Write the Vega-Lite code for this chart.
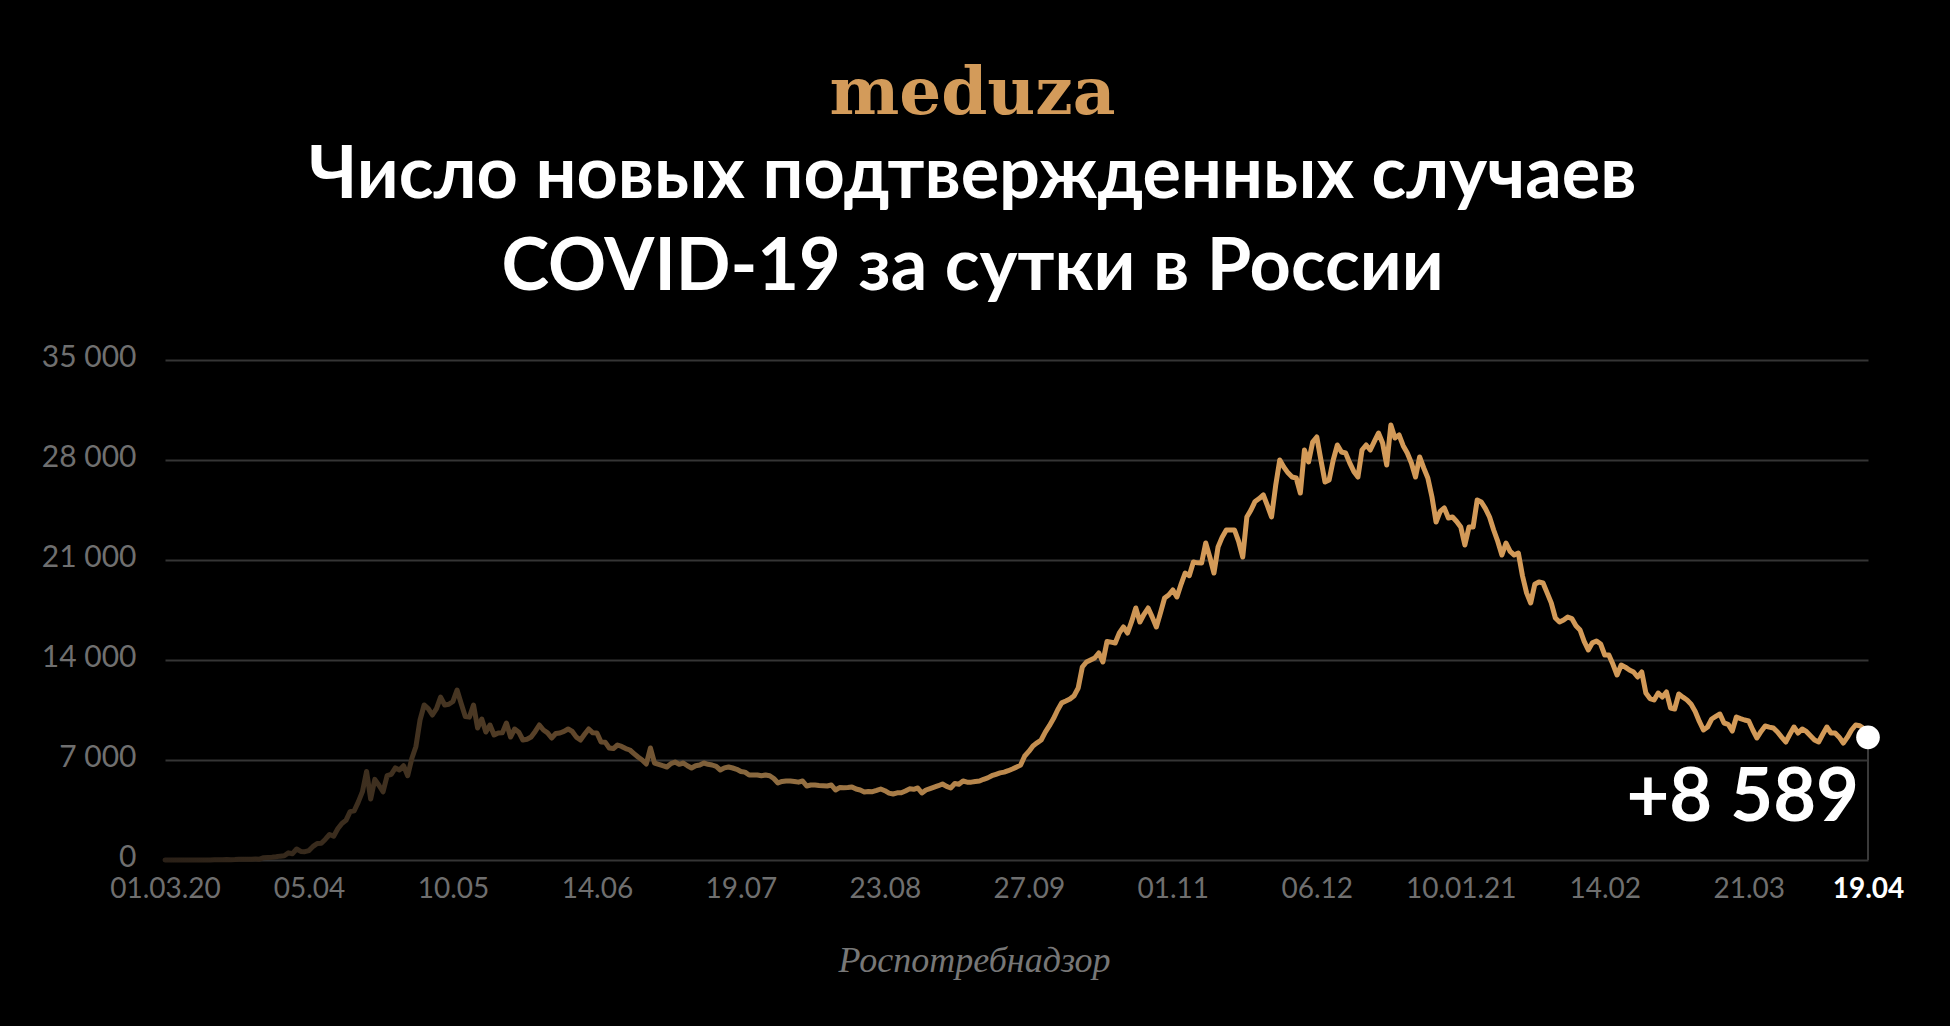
{
"$schema": "https://vega.github.io/schema/vega-lite/v6.json",
"width": 1703, "height": 500,
"autosize": {"type": "none"},
"padding": {"left": 165, "top": 360, "right": 82, "bottom": 166},
"background": "#000000",
"config": {
  "locale": {"number": {"decimal": ",", "thousands": " ", "grouping": [3], "currency": ["", ""]}},
  "view": {"stroke": null},
  "font": "Lato"
},
"title": {
  "text": "meduza",
  "subtitle": ["Число новых подтвержденных случаев", "COVID-19 за сутки в России"],
  "anchor": "middle", "dx": -44,
  "font": "DejaVu Serif", "fontSize": 66, "fontWeight": "bold", "color": "#D39B5A",
  "subtitleFont": "Lato", "subtitleFontSize": 72, "subtitleFontWeight": "bold", "subtitleColor": "#ffffff",
  "subtitleLineHeight": 92, "subtitlePadding": 13, "offset": 37
},
"datasets": {"cases": [
{"date":"2020-03-01","value":0},{"date":"2020-03-02","value":1},{"date":"2020-03-03","value":0},{"date":"2020-03-04","value":0},{"date":"2020-03-05","value":1},{"date":"2020-03-06","value":6},{"date":"2020-03-07","value":4},{"date":"2020-03-08","value":0},{"date":"2020-03-09","value":3},{"date":"2020-03-10","value":3},
{"date":"2020-03-11","value":8},{"date":"2020-03-12","value":6},{"date":"2020-03-13","value":11},{"date":"2020-03-14","value":14},{"date":"2020-03-15","value":18},{"date":"2020-03-16","value":30},{"date":"2020-03-17","value":21},{"date":"2020-03-18","value":33},{"date":"2020-03-19","value":52},{"date":"2020-03-20","value":54},
{"date":"2020-03-21","value":53},{"date":"2020-03-22","value":61},{"date":"2020-03-23","value":71},{"date":"2020-03-24","value":57},{"date":"2020-03-25","value":163},{"date":"2020-03-26","value":182},{"date":"2020-03-27","value":196},{"date":"2020-03-28","value":228},{"date":"2020-03-29","value":270},{"date":"2020-03-30","value":302},{"date":"2020-03-31","value":501},
{"date":"2020-04-01","value":440},{"date":"2020-04-02","value":771},{"date":"2020-04-03","value":601},{"date":"2020-04-04","value":582},{"date":"2020-04-05","value":658},{"date":"2020-04-06","value":954},{"date":"2020-04-07","value":1154},{"date":"2020-04-08","value":1175},{"date":"2020-04-09","value":1459},{"date":"2020-04-10","value":1786},
{"date":"2020-04-11","value":1667},{"date":"2020-04-12","value":2186},{"date":"2020-04-13","value":2558},{"date":"2020-04-14","value":2774},{"date":"2020-04-15","value":3388},{"date":"2020-04-16","value":3448},{"date":"2020-04-17","value":4070},{"date":"2020-04-18","value":4785},{"date":"2020-04-19","value":6200},{"date":"2020-04-20","value":4268},
{"date":"2020-04-21","value":5642},{"date":"2020-04-22","value":5236},{"date":"2020-04-23","value":4774},{"date":"2020-04-24","value":5900},{"date":"2020-04-25","value":6000},{"date":"2020-04-26","value":6450},{"date":"2020-04-27","value":6300},{"date":"2020-04-28","value":6600},{"date":"2020-04-29","value":5900},{"date":"2020-04-30","value":7100},
{"date":"2020-05-01","value":7950},{"date":"2020-05-02","value":9800},{"date":"2020-05-03","value":10850},{"date":"2020-05-04","value":10600},{"date":"2020-05-05","value":10150},{"date":"2020-05-06","value":10600},{"date":"2020-05-07","value":11400},{"date":"2020-05-08","value":10850},{"date":"2020-05-09","value":10900},{"date":"2020-05-10","value":11100},
{"date":"2020-05-11","value":11900},{"date":"2020-05-12","value":10950},{"date":"2020-05-13","value":10050},{"date":"2020-05-14","value":10000},{"date":"2020-05-15","value":10850},{"date":"2020-05-16","value":9240},{"date":"2020-05-17","value":9870},{"date":"2020-05-18","value":8960},{"date":"2020-05-19","value":9450},{"date":"2020-05-20","value":8750},
{"date":"2020-05-21","value":8890},{"date":"2020-05-22","value":8900},{"date":"2020-05-23","value":9590},{"date":"2020-05-24","value":8610},{"date":"2020-05-25","value":9170},{"date":"2020-05-26","value":8950},{"date":"2020-05-27","value":8400},{"date":"2020-05-28","value":8450},{"date":"2020-05-29","value":8610},{"date":"2020-05-30","value":9000},{"date":"2020-05-31","value":9450},
{"date":"2020-06-01","value":9100},{"date":"2020-06-02","value":8900},{"date":"2020-06-03","value":8540},{"date":"2020-06-04","value":8850},{"date":"2020-06-05","value":8890},{"date":"2020-06-06","value":9000},{"date":"2020-06-07","value":9170},{"date":"2020-06-08","value":9000},{"date":"2020-06-09","value":8600},{"date":"2020-06-10","value":8400},
{"date":"2020-06-11","value":8800},{"date":"2020-06-12","value":9170},{"date":"2020-06-13","value":8900},{"date":"2020-06-14","value":8890},{"date":"2020-06-15","value":8260},{"date":"2020-06-16","value":8250},{"date":"2020-06-17","value":7840},{"date":"2020-06-18","value":7800},{"date":"2020-06-19","value":8050},{"date":"2020-06-20","value":7950},
{"date":"2020-06-21","value":7800},{"date":"2020-06-22","value":7700},{"date":"2020-06-23","value":7450},{"date":"2020-06-24","value":7210},{"date":"2020-06-25","value":7000},{"date":"2020-06-26","value":6720},{"date":"2020-06-27","value":7840},{"date":"2020-06-28","value":6790},{"date":"2020-06-29","value":6700},{"date":"2020-06-30","value":6600},
{"date":"2020-07-01","value":6510},{"date":"2020-07-02","value":6750},{"date":"2020-07-03","value":6860},{"date":"2020-07-04","value":6700},{"date":"2020-07-05","value":6790},{"date":"2020-07-06","value":6600},{"date":"2020-07-07","value":6440},{"date":"2020-07-08","value":6600},{"date":"2020-07-09","value":6650},{"date":"2020-07-10","value":6790},
{"date":"2020-07-11","value":6700},{"date":"2020-07-12","value":6650},{"date":"2020-07-13","value":6550},{"date":"2020-07-14","value":6300},{"date":"2020-07-15","value":6450},{"date":"2020-07-16","value":6510},{"date":"2020-07-17","value":6440},{"date":"2020-07-18","value":6350},{"date":"2020-07-19","value":6200},{"date":"2020-07-20","value":6150},
{"date":"2020-07-21","value":5950},{"date":"2020-07-22","value":5950},{"date":"2020-07-23","value":5950},{"date":"2020-07-24","value":5900},{"date":"2020-07-25","value":5950},{"date":"2020-07-26","value":5900},{"date":"2020-07-27","value":5700},{"date":"2020-07-28","value":5390},{"date":"2020-07-29","value":5500},{"date":"2020-07-30","value":5530},{"date":"2020-07-31","value":5530},
{"date":"2020-08-01","value":5500},{"date":"2020-08-02","value":5450},{"date":"2020-08-03","value":5530},{"date":"2020-08-04","value":5180},{"date":"2020-08-05","value":5250},{"date":"2020-08-06","value":5250},{"date":"2020-08-07","value":5220},{"date":"2020-08-08","value":5200},{"date":"2020-08-09","value":5180},{"date":"2020-08-10","value":5250},
{"date":"2020-08-11","value":4900},{"date":"2020-08-12","value":5070},{"date":"2020-08-13","value":5060},{"date":"2020-08-14","value":5070},{"date":"2020-08-15","value":5110},{"date":"2020-08-16","value":4970},{"date":"2020-08-17","value":4900},{"date":"2020-08-18","value":4760},{"date":"2020-08-19","value":4800},{"date":"2020-08-20","value":4780},
{"date":"2020-08-21","value":4870},{"date":"2020-08-22","value":4970},{"date":"2020-08-23","value":4850},{"date":"2020-08-24","value":4680},{"date":"2020-08-25","value":4620},{"date":"2020-08-26","value":4700},{"date":"2020-08-27","value":4710},{"date":"2020-08-28","value":4830},{"date":"2020-08-29","value":4980},{"date":"2020-08-30","value":4950},{"date":"2020-08-31","value":5040},
{"date":"2020-09-01","value":4690},{"date":"2020-09-02","value":4900},{"date":"2020-09-03","value":5000},{"date":"2020-09-04","value":5100},{"date":"2020-09-05","value":5200},{"date":"2020-09-06","value":5320},{"date":"2020-09-07","value":5150},{"date":"2020-09-08","value":5040},{"date":"2020-09-09","value":5350},{"date":"2020-09-10","value":5300},
{"date":"2020-09-11","value":5530},{"date":"2020-09-12","value":5450},{"date":"2020-09-13","value":5450},{"date":"2020-09-14","value":5500},{"date":"2020-09-15","value":5530},{"date":"2020-09-16","value":5650},{"date":"2020-09-17","value":5750},{"date":"2020-09-18","value":5900},{"date":"2020-09-19","value":6000},{"date":"2020-09-20","value":6100},
{"date":"2020-09-21","value":6150},{"date":"2020-09-22","value":6250},{"date":"2020-09-23","value":6370},{"date":"2020-09-24","value":6500},{"date":"2020-09-25","value":6650},{"date":"2020-09-26","value":7280},{"date":"2020-09-27","value":7600},{"date":"2020-09-28","value":7980},{"date":"2020-09-29","value":8200},{"date":"2020-09-30","value":8400},
{"date":"2020-10-01","value":8950},{"date":"2020-10-02","value":9400},{"date":"2020-10-03","value":9900},{"date":"2020-10-04","value":10500},{"date":"2020-10-05","value":11000},{"date":"2020-10-06","value":11130},{"date":"2020-10-07","value":11270},{"date":"2020-10-08","value":11500},{"date":"2020-10-09","value":12040},{"date":"2020-10-10","value":13510},
{"date":"2020-10-11","value":13860},{"date":"2020-10-12","value":14000},{"date":"2020-10-13","value":14140},{"date":"2020-10-14","value":14490},{"date":"2020-10-15","value":13860},{"date":"2020-10-16","value":15300},{"date":"2020-10-17","value":15250},{"date":"2020-10-18","value":15190},{"date":"2020-10-19","value":15900},{"date":"2020-10-20","value":16310},
{"date":"2020-10-21","value":15890},{"date":"2020-10-22","value":16700},{"date":"2020-10-23","value":17640},{"date":"2020-10-24","value":16660},{"date":"2020-10-25","value":17200},{"date":"2020-10-26","value":17640},{"date":"2020-10-27","value":17000},{"date":"2020-10-28","value":16310},{"date":"2020-10-29","value":17300},{"date":"2020-10-30","value":18340},{"date":"2020-10-31","value":18550},
{"date":"2020-11-01","value":18900},{"date":"2020-11-02","value":18410},{"date":"2020-11-03","value":19300},{"date":"2020-11-04","value":20090},{"date":"2020-11-05","value":19900},{"date":"2020-11-06","value":20860},{"date":"2020-11-07","value":20800},{"date":"2020-11-08","value":20790},{"date":"2020-11-09","value":22190},{"date":"2020-11-10","value":21200},
{"date":"2020-11-11","value":20090},{"date":"2020-11-12","value":21910},{"date":"2020-11-13","value":22600},{"date":"2020-11-14","value":23100},{"date":"2020-11-15","value":23100},{"date":"2020-11-16","value":23100},{"date":"2020-11-17","value":22300},{"date":"2020-11-18","value":21210},{"date":"2020-11-19","value":24010},{"date":"2020-11-20","value":24500},
{"date":"2020-11-21","value":25100},{"date":"2020-11-22","value":25300},{"date":"2020-11-23","value":25550},{"date":"2020-11-24","value":24800},{"date":"2020-11-25","value":24010},{"date":"2020-11-26","value":26200},{"date":"2020-11-27","value":28000},{"date":"2020-11-28","value":27500},{"date":"2020-11-29","value":27100},{"date":"2020-11-30","value":26810},
{"date":"2020-12-01","value":26740},{"date":"2020-12-02","value":25690},{"date":"2020-12-03","value":28700},{"date":"2020-12-04","value":27860},{"date":"2020-12-05","value":29260},{"date":"2020-12-06","value":29610},{"date":"2020-12-07","value":28000},{"date":"2020-12-08","value":26460},{"date":"2020-12-09","value":26600},{"date":"2020-12-10","value":28000},
{"date":"2020-12-11","value":29050},{"date":"2020-12-12","value":28560},{"date":"2020-12-13","value":28490},{"date":"2020-12-14","value":27800},{"date":"2020-12-15","value":27200},{"date":"2020-12-16","value":26810},{"date":"2020-12-17","value":28700},{"date":"2020-12-18","value":29050},{"date":"2020-12-19","value":28700},{"date":"2020-12-20","value":29300},
{"date":"2020-12-21","value":29890},{"date":"2020-12-22","value":29190},{"date":"2020-12-23","value":27650},{"date":"2020-12-24","value":30450},{"date":"2020-12-25","value":29540},{"date":"2020-12-26","value":29750},{"date":"2020-12-27","value":29000},{"date":"2020-12-28","value":28490},{"date":"2020-12-29","value":27790},{"date":"2020-12-30","value":26810},{"date":"2020-12-31","value":28210},
{"date":"2021-01-01","value":27440},{"date":"2021-01-02","value":26740},{"date":"2021-01-03","value":25410},{"date":"2021-01-04","value":23660},{"date":"2021-01-05","value":24400},{"date":"2021-01-06","value":24640},{"date":"2021-01-07","value":23940},{"date":"2021-01-08","value":24010},{"date":"2021-01-09","value":23700},{"date":"2021-01-10","value":23310},
{"date":"2021-01-11","value":22050},{"date":"2021-01-12","value":23310},{"date":"2021-01-13","value":23310},{"date":"2021-01-14","value":25200},{"date":"2021-01-15","value":25060},{"date":"2021-01-16","value":24600},{"date":"2021-01-17","value":24010},{"date":"2021-01-18","value":23100},{"date":"2021-01-19","value":22300},{"date":"2021-01-20","value":21350},
{"date":"2021-01-21","value":22190},{"date":"2021-01-22","value":21600},{"date":"2021-01-23","value":21350},{"date":"2021-01-24","value":21490},{"date":"2021-01-25","value":19900},{"date":"2021-01-26","value":18700},{"date":"2021-01-27","value":17990},{"date":"2021-01-28","value":19300},{"date":"2021-01-29","value":19460},{"date":"2021-01-30","value":19390},{"date":"2021-01-31","value":18700},
{"date":"2021-02-01","value":18000},{"date":"2021-02-02","value":16940},{"date":"2021-02-03","value":16660},{"date":"2021-02-04","value":16800},{"date":"2021-02-05","value":17010},{"date":"2021-02-06","value":16900},{"date":"2021-02-07","value":16400},{"date":"2021-02-08","value":16100},{"date":"2021-02-09","value":15300},{"date":"2021-02-10","value":14700},
{"date":"2021-02-11","value":15200},{"date":"2021-02-12","value":15330},{"date":"2021-02-13","value":15120},{"date":"2021-02-14","value":14350},{"date":"2021-02-15","value":14350},{"date":"2021-02-16","value":13700},{"date":"2021-02-17","value":12950},{"date":"2021-02-18","value":13650},{"date":"2021-02-19","value":13500},{"date":"2021-02-20","value":13300},
{"date":"2021-02-21","value":13160},{"date":"2021-02-22","value":12810},{"date":"2021-02-23","value":13160},{"date":"2021-02-24","value":11690},{"date":"2021-02-25","value":11300},{"date":"2021-02-26","value":11200},{"date":"2021-02-27","value":11690},{"date":"2021-02-28","value":11410},
{"date":"2021-03-01","value":11760},{"date":"2021-03-02","value":10640},{"date":"2021-03-03","value":10570},{"date":"2021-03-04","value":11620},{"date":"2021-03-05","value":11400},{"date":"2021-03-06","value":11200},{"date":"2021-03-07","value":10900},{"date":"2021-03-08","value":10400},{"date":"2021-03-09","value":9700},{"date":"2021-03-10","value":9100},
{"date":"2021-03-11","value":9310},{"date":"2021-03-12","value":9870},{"date":"2021-03-13","value":10050},{"date":"2021-03-14","value":10220},{"date":"2021-03-15","value":9590},{"date":"2021-03-16","value":9500},{"date":"2021-03-17","value":9030},{"date":"2021-03-18","value":10010},{"date":"2021-03-19","value":9900},{"date":"2021-03-20","value":9800},
{"date":"2021-03-21","value":9730},{"date":"2021-03-22","value":9100},{"date":"2021-03-23","value":8540},{"date":"2021-03-24","value":9000},{"date":"2021-03-25","value":9380},{"date":"2021-03-26","value":9300},{"date":"2021-03-27","value":9240},{"date":"2021-03-28","value":8960},{"date":"2021-03-29","value":8600},{"date":"2021-03-30","value":8260},{"date":"2021-03-31","value":8800},
{"date":"2021-04-01","value":9310},{"date":"2021-04-02","value":8890},{"date":"2021-04-03","value":9170},{"date":"2021-04-04","value":9000},{"date":"2021-04-05","value":8700},{"date":"2021-04-06","value":8400},{"date":"2021-04-07","value":8260},{"date":"2021-04-08","value":8800},{"date":"2021-04-09","value":9310},{"date":"2021-04-10","value":8890},
{"date":"2021-04-11","value":8890},{"date":"2021-04-12","value":8600},{"date":"2021-04-13","value":8190},{"date":"2021-04-14","value":8600},{"date":"2021-04-15","value":9100},{"date":"2021-04-16","value":9450},{"date":"2021-04-17","value":9400},{"date":"2021-04-18","value":9200},{"date":"2021-04-19","value":8589}
]},
"data": {"name": "cases"},
"encoding": {
  "x": {"field": "date", "type": "temporal",
    "scale": {"type": "utc", "nice": false, "domain": [{"year": 2020, "month": 3, "date": 1, "utc": true}, {"year": 2021, "month": 4, "date": 19, "utc": true}]},
    "axis": {
      "values": [
        {"year": 2020, "month": 3, "date": 1, "utc": true},
        {"year": 2020, "month": 4, "date": 5, "utc": true},
        {"year": 2020, "month": 5, "date": 10, "utc": true},
        {"year": 2020, "month": 6, "date": 14, "utc": true},
        {"year": 2020, "month": 7, "date": 19, "utc": true},
        {"year": 2020, "month": 8, "date": 23, "utc": true},
        {"year": 2020, "month": 9, "date": 27, "utc": true},
        {"year": 2020, "month": 11, "date": 1, "utc": true},
        {"year": 2020, "month": 12, "date": 6, "utc": true},
        {"year": 2021, "month": 1, "date": 10, "utc": true},
        {"year": 2021, "month": 2, "date": 14, "utc": true},
        {"year": 2021, "month": 3, "date": 21, "utc": true},
        {"year": 2021, "month": 4, "date": 19, "utc": true}
      ],
      "labelExpr": "utcFormat(datum.value, '%d.%m') + ((utcmonth(datum.value) == 2 && utcyear(datum.value) == 2020) ? '.20' : (utcmonth(datum.value) == 0 ? '.21' : ''))",
      "grid": false, "ticks": false, "domain": false,
      "labelFont": "Lato", "labelFontSize": 28,
      "labelColor": {"condition": {"test": "utcyear(datum.value) == 2021 && utcmonth(datum.value) == 3", "value": "#ffffff"}, "value": "#6f6f6f"},
      "labelFontWeight": {"condition": {"test": "utcyear(datum.value) == 2021 && utcmonth(datum.value) == 3", "value": "bold"}, "value": "normal"},
      "labelPadding": 15, "labelOverlap": false, "labelFlush": false, "labelBound": false,
      "title": "Роспотребнадзор",
      "titleFont": "Liberation Serif", "titleFontStyle": "italic", "titleFontWeight": "normal", "titleFontSize": 36, "titleColor": "#777777",
      "titleX": 809, "titleY": 111, "titleAlign": "center", "titleBaseline": "alphabetic"
    }
  },
  "y": {"field": "value", "type": "quantitative",
    "scale": {"domain": [0, 35000], "nice": false},
    "axis": {
      "values": [0, 7000, 14000, 21000, 28000, 35000], "format": ",d",
      "grid": true, "gridColor": "#353535", "gridWidth": 2,
      "ticks": false, "domain": false,
      "labelFont": "Lato", "labelFontSize": 30, "labelColor": "#6f6f6f", "labelPadding": 29, "labelOffset": -3,
      "title": null
    }
  }
},
"layer": [
  {"transform": [{"filter": "utcyear(datum.date) == 2021 && utcmonth(datum.date) == 3 && utcdate(datum.date) == 19"}],
   "mark": {"type": "rule", "color": "#3a3a3a", "strokeWidth": 2},
   "encoding": {"y2": {"datum": 0}}},
  {"mark": {"type": "line", "strokeWidth": 5, "strokeJoin": "round", "strokeCap": "round",
     "stroke": {"gradient": "linear", "x1": 0, "y1": 0, "x2": 1, "y2": 0,
       "stops": [
         {"offset": 0, "color": "#2a2017"},
         {"offset": 0.17, "color": "#463522"},
         {"offset": 0.25, "color": "#64492c"},
         {"offset": 0.34, "color": "#87673e"},
         {"offset": 0.42, "color": "#a67b47"},
         {"offset": 0.51, "color": "#c38e50"},
         {"offset": 0.6, "color": "#d39a58"},
         {"offset": 1, "color": "#d39a58"}
       ]}}},
  {"transform": [{"filter": "utcyear(datum.date) == 2021 && utcmonth(datum.date) == 3 && utcdate(datum.date) == 19"}],
   "mark": {"type": "point", "filled": true, "color": "#ffffff", "opacity": 1, "size": 560}},
  {"transform": [{"filter": "utcyear(datum.date) == 2021 && utcmonth(datum.date) == 3 && utcdate(datum.date) == 19"}],
   "mark": {"type": "text", "font": "Lato", "fontWeight": "bold", "fontSize": 74, "color": "#ffffff", "align": "right", "baseline": "alphabetic", "dx": -9, "dy": 84},
   "encoding": {"text": {"field": "value", "type": "quantitative", "format": "+,d"}}}
]
}
